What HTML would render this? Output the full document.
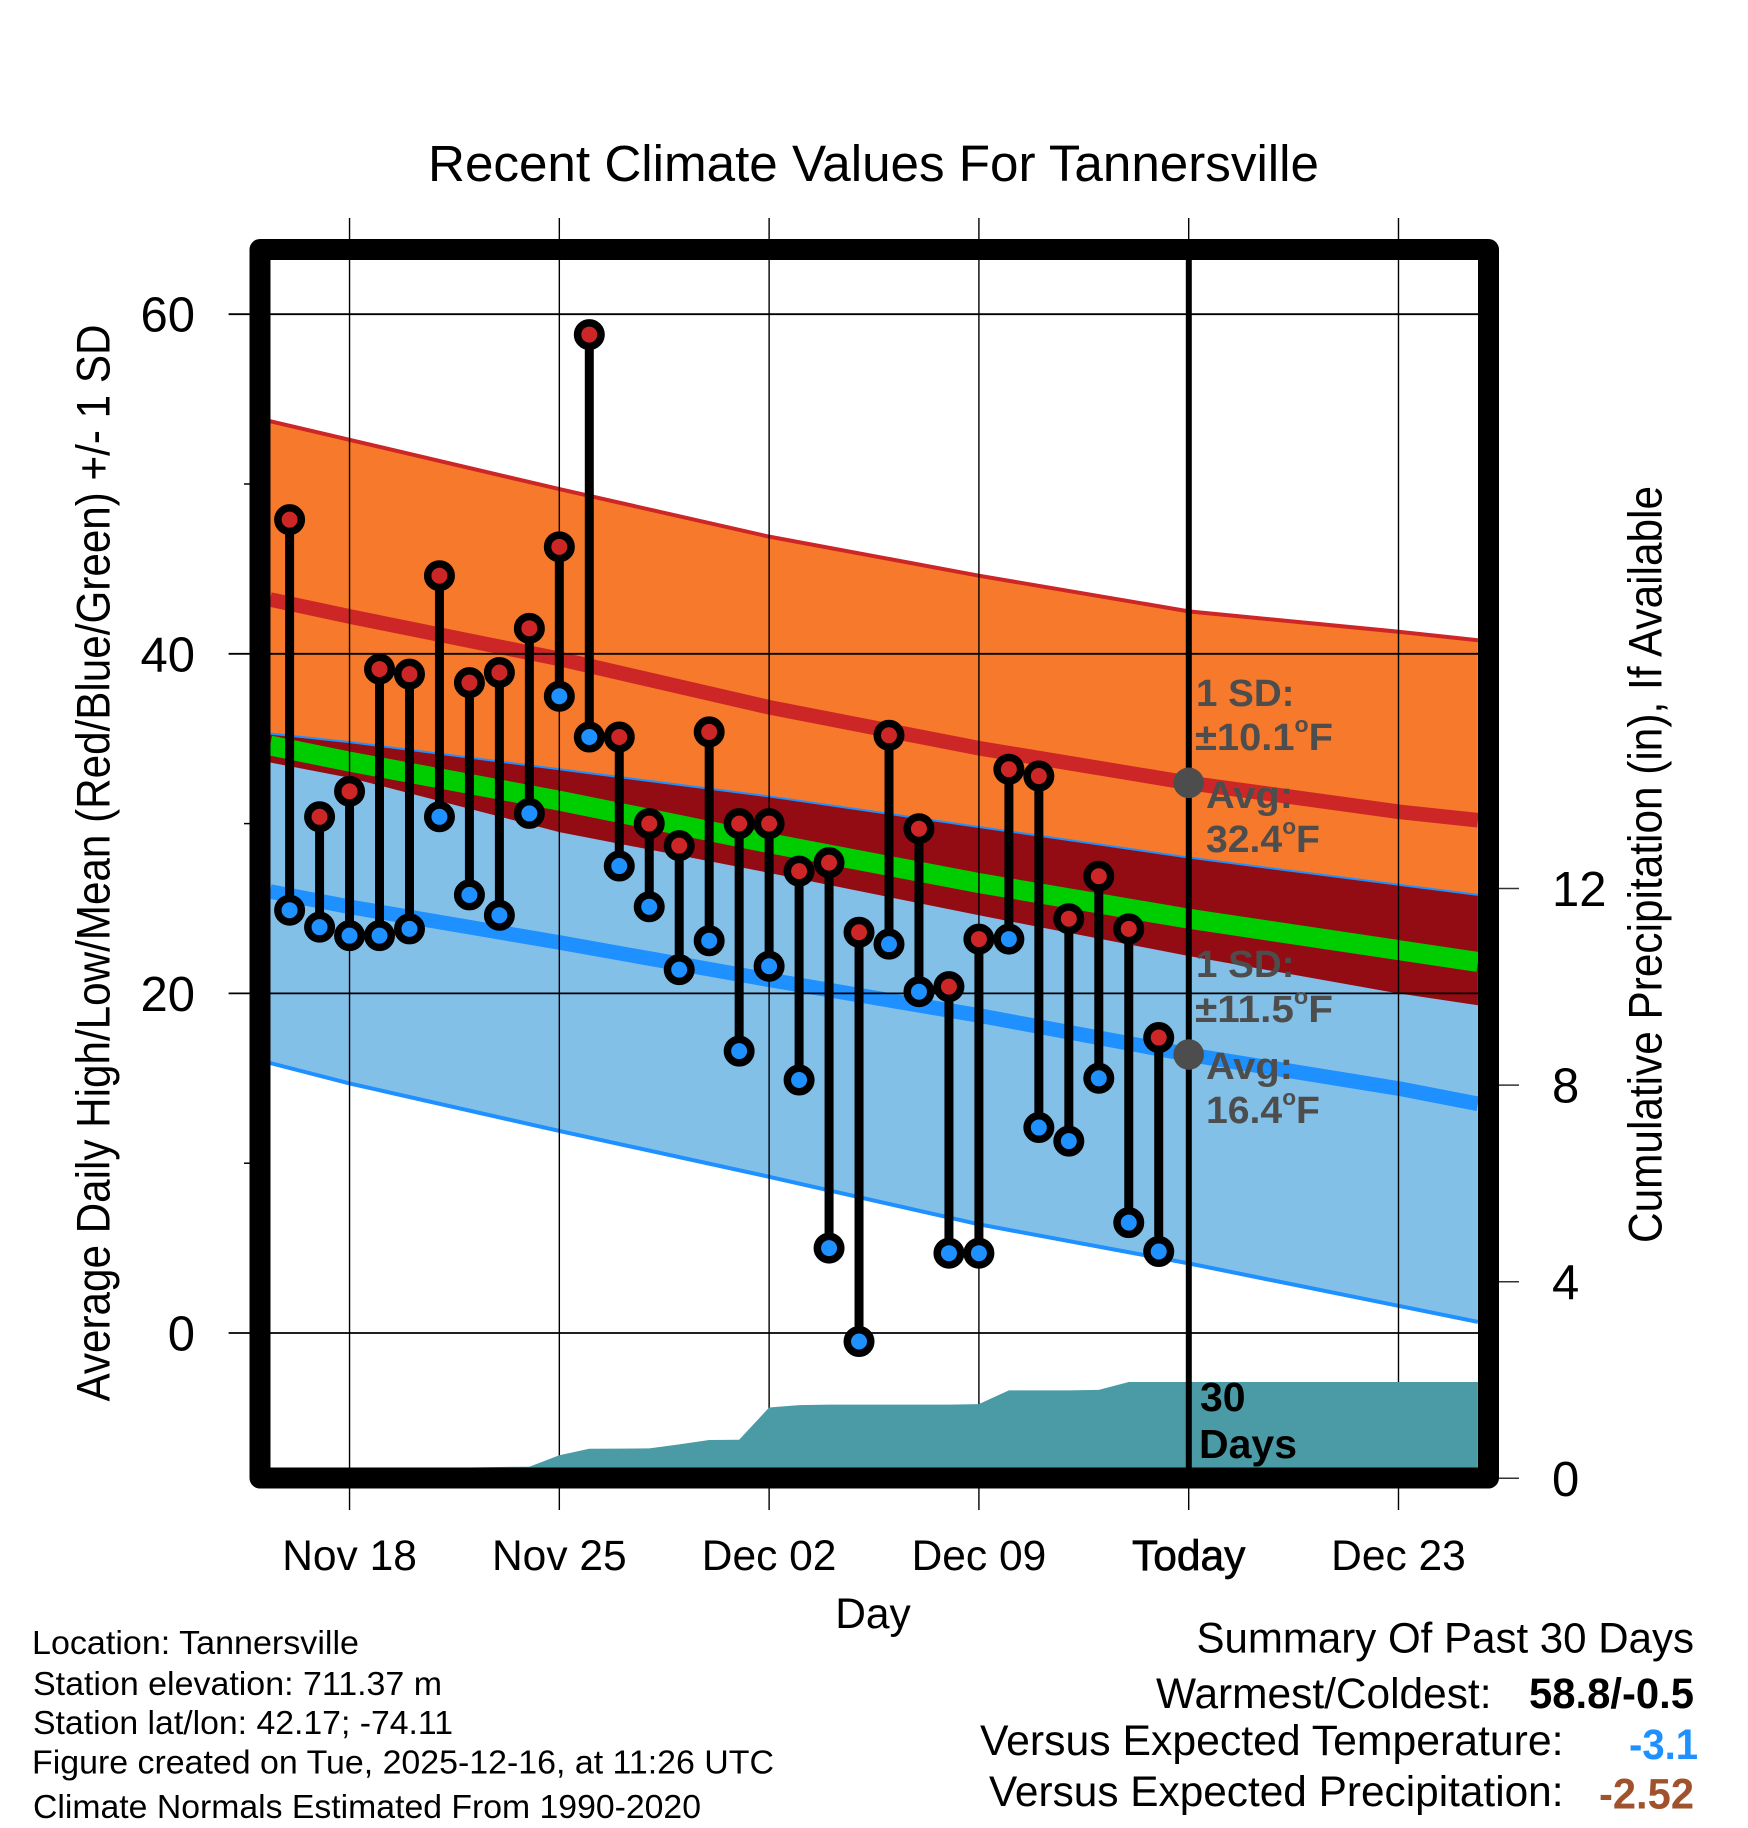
<!DOCTYPE html>
<html>
<head>
<meta charset="utf-8">
<title>Recent Climate Values For Tannersville</title>
<style>
html,body{margin:0;padding:0;background:#fff;}
svg{display:block;}
text{font-family:"Liberation Sans",sans-serif;fill:#000;}
.b{font-weight:bold;}
.g{font-weight:bold;fill:#4d4d4d;font-size:38px;}
.m{font-size:33px;}
.s{font-size:42.5px;}
</style>
</head>
<body>
<svg id="chart" xmlns="http://www.w3.org/2000/svg" width="1748" height="1828" viewBox="0 0 1748 1828">
  <defs><clipPath id="plotClip"><rect x="270" y="260" width="1208" height="1208"/></clipPath></defs>
  <g id="bands" clip-path="url(#plotClip)"></g>
  <g id="grid"></g>
  <g id="precip" clip-path="url(#plotClip)"></g>
  <line x1="1188.8" y1="260" x2="1188.8" y2="1468" stroke="#000" stroke-width="6"/>
  <g id="obs"></g>
  <g id="markers"></g>
  <rect x="260" y="249.5" width="1228.5" height="1228.5" fill="none" stroke="#000" stroke-width="21" stroke-linejoin="round"/>
  <g id="ticks"></g>

  <text x="428" y="181" font-size="51" textLength="891" lengthAdjust="spacingAndGlyphs">Recent Climate Values For Tannersville</text>
  <text transform="translate(109.7 863) rotate(-90)" font-size="47" text-anchor="middle" textLength="1077" lengthAdjust="spacingAndGlyphs">Average Daily High/Low/Mean (Red/Blue/Green) +/- 1 SD</text>
  <text transform="translate(1661.5 864.5) rotate(-90)" font-size="47" text-anchor="middle" textLength="757" lengthAdjust="spacingAndGlyphs">Cumulative Precipitation (in), If Available</text>
  <text x="873" y="1628" font-size="42.5" text-anchor="middle">Day</text>

  <text class="g" x="1196" y="706" textLength="98.5" lengthAdjust="spacingAndGlyphs">1 SD:</text>
  <text class="g" x="1195" y="750" textLength="138" lengthAdjust="spacingAndGlyphs">±10.1<tspan font-size="22" dy="-18">o</tspan><tspan dy="18">F</tspan></text>
  <text class="g" x="1206" y="808" textLength="87" lengthAdjust="spacingAndGlyphs">Avg:</text>
  <text class="g" x="1206" y="852" textLength="114" lengthAdjust="spacingAndGlyphs">32.4<tspan font-size="22" dy="-18">o</tspan><tspan dy="18">F</tspan></text>
  <text class="g" x="1196" y="977" textLength="98.5" lengthAdjust="spacingAndGlyphs">1 SD:</text>
  <text class="g" x="1195" y="1022" textLength="138" lengthAdjust="spacingAndGlyphs">±11.5<tspan font-size="22" dy="-18">o</tspan><tspan dy="18">F</tspan></text>
  <text class="g" x="1206" y="1079" textLength="87" lengthAdjust="spacingAndGlyphs">Avg:</text>
  <text class="g" x="1206" y="1123" textLength="114" lengthAdjust="spacingAndGlyphs">16.4<tspan font-size="22" dy="-18">o</tspan><tspan dy="18">F</tspan></text>
  <text class="b" x="1200" y="1411" font-size="41">30</text>
  <text class="b" x="1199" y="1458" font-size="41">Days</text>

  <text class="m" x="32" y="1654" textLength="327" lengthAdjust="spacingAndGlyphs">Location: Tannersville</text>
  <text class="m" x="33" y="1695" textLength="409" lengthAdjust="spacingAndGlyphs">Station elevation: 711.37 m</text>
  <text class="m" x="33" y="1734" textLength="420" lengthAdjust="spacingAndGlyphs">Station lat/lon: 42.17; -74.11</text>
  <text class="m" x="32" y="1773.5" textLength="742" lengthAdjust="spacingAndGlyphs">Figure created on Tue, 2025-12-16, at 11:26 UTC</text>
  <text class="m" x="33" y="1818" textLength="668" lengthAdjust="spacingAndGlyphs">Climate Normals Estimated From 1990-2020</text>

  <text class="s" x="1196.5" y="1652.5" textLength="497.5" lengthAdjust="spacingAndGlyphs">Summary Of Past 30 Days</text>
  <text class="s" x="1156" y="1708" textLength="335.5" lengthAdjust="spacingAndGlyphs">Warmest/Coldest:</text>
  <text class="s b" x="1529" y="1708" textLength="165" lengthAdjust="spacingAndGlyphs">58.8/-0.5</text>
  <text class="s" x="980" y="1755" textLength="583.5" lengthAdjust="spacingAndGlyphs">Versus Expected Temperature:</text>
  <text class="s b" x="1629" y="1759" textLength="69" lengthAdjust="spacingAndGlyphs" style="fill:#1e90ff">-3.1</text>
  <text class="s" x="989" y="1806" textLength="574.5" lengthAdjust="spacingAndGlyphs">Versus Expected Precipitation:</text>
  <text class="s b" x="1599" y="1808.5" textLength="95" lengthAdjust="spacingAndGlyphs" style="fill:#a0522d">-2.52</text>
</svg>
<script>
// Day index: 0 = Nov 16, 30 = Today (Dec 16)
const tempTicksMajor = [60, 40, 20, 0];
const tempTicksMinor = [50, 30, 10];
const precipTicks = [12, 8, 4, 0];
const dateTickDays = [2, 9, 16, 23, 30, 37];
const dateTickLabels = ["Nov 18", "Nov 25", "Dec 02", "Dec 09", "Today", "Dec 23"];

const normalDays = [-0.65, 2, 9, 16, 23, 30, 37, 39.65];
const highPlusSD = [53.7, 52.6, 49.7, 46.9, 44.6, 42.5, 41.3, 40.8];
const highMean = [43.2, 42.2, 39.7, 36.85, 34.44, 32.4, 30.7, 30.2];
const highMinusSD = [33.6, 32.7, 29.5, 27.1, 24.6, 22.2, 20.0, 19.3];
const lowPlusSD = [35.3, 34.8, 33.2, 31.6, 29.8, 28.0, 26.4, 25.8];
const lowMean = [26.0, 25.1, 23.0, 20.8, 18.7, 16.4, 14.4, 13.5];
const lowMinusSD = [15.9, 14.7, 11.9, 9.2, 6.4, 4.1, 1.6, 0.65];
const avgMean = [34.6, 33.65, 31.35, 28.85, 26.5, 24.4, 22.55, 21.85];

const dailyHigh = [47.9, 30.4, 31.9, 39.1, 38.8, 44.6, 38.3, 38.9, 41.5, 46.3, 58.8, 35.1, 30.0, 28.7, 35.4, 30.0, 30.0, 27.2, 27.7, 23.6, 35.2, 29.7, 20.4, 23.2, 33.2, 32.8, 24.4, 26.9, 23.8, 17.4];
const dailyLow = [24.9, 23.9, 23.4, 23.4, 23.8, 30.4, 25.8, 24.6, 30.6, 37.5, 35.1, 27.5, 25.1, 21.4, 23.1, 16.6, 21.6, 14.9, 5.0, -0.5, 22.9, 20.1, 4.7, 4.7, 23.2, 12.1, 11.3, 15.0, 6.5, 4.8];

const precipCumulative = [0, 0, 0, 0, 0, 0, 0.22, 0.23, 0.235, 0.468, 0.602, 0.604, 0.61, 0.69, 0.78, 0.785, 1.44, 1.49, 1.5, 1.5, 1.5, 1.5, 1.5, 1.51, 1.79, 1.79, 1.79, 1.8, 1.96, 1.96];
const todayAverages = [32.4, 16.4];

const NS = "http://www.w3.org/2000/svg";
const xDay = d => 289.6 + 29.97 * d;
const yTemp = v => 1333 - 16.98 * v;
const yPrecip = p => 1478.3 - 49.15 * p;
const X_RIGHT_DAY = 39.65;

function mk(parent, tag, attrs, txt) {
  const el = document.createElementNS(NS, tag);
  for (const k in attrs) el.setAttribute(k, attrs[k]);
  if (txt !== undefined) el.textContent = txt;
  parent.appendChild(el);
  return el;
}
function pts(days, vals) {
  return days.map((d, i) => xDay(d).toFixed(2) + "," + yTemp(vals[i]).toFixed(2)).join(" ");
}
function bandPts(days, top, bot) {
  return pts(days, top) + " " + pts(days.slice().reverse(), bot.slice().reverse());
}
const bands = document.getElementById("bands");
let e;

e = mk(bands, "polygon", {points: bandPts(normalDays, highPlusSD, highMinusSD), fill: "#f7792b"});


e = mk(bands, "polygon", {points: bandPts(normalDays, lowPlusSD, lowMinusSD), fill: "#83c0e8"});


e = mk(bands, "polygon", {points: bandPts(normalDays, lowPlusSD, highMinusSD), fill: "#930c13"});


e = mk(bands, "polyline", {points: pts(normalDays, highPlusSD), fill: "none", stroke: "#cd2626", "stroke-width": 4});


e = mk(bands, "polyline", {points: pts(normalDays, highMean), fill: "none", stroke: "#cd2626", "stroke-width": 14.6});


e = mk(bands, "polyline", {points: pts(normalDays, lowPlusSD), fill: "none", stroke: "#1e90ff", "stroke-width": 2});


e = mk(bands, "polyline", {points: pts(normalDays, lowMean), fill: "none", stroke: "#1e90ff", "stroke-width": 14.6});


e = mk(bands, "polyline", {points: pts(normalDays, lowMinusSD), fill: "none", stroke: "#1e90ff", "stroke-width": 4});


e = mk(bands, "polyline", {points: pts(normalDays, avgMean), fill: "none", stroke: "#00cd00", "stroke-width": 20});



const grid = document.getElementById("grid");
tempTicksMajor.forEach(v => {
  const l = mk(grid, "line", {x1: 228.6, x2: 1478, y1: yTemp(v), y2: yTemp(v), stroke: "#000", "stroke-width": 1.8});
  
  
});
dateTickDays.forEach(d => {
  const l = mk(grid, "line", {x1: xDay(d), x2: xDay(d), y1: 218, y2: 1510, stroke: "#000", "stroke-width": 1.4});
  
  
});

const precip = document.getElementById("precip");
{
  const last = precipCumulative[precipCumulative.length - 1];
  let p = xDay(-0.65) + "," + yPrecip(0);
  precipCumulative.forEach((v, i) => { p += " " + xDay(i).toFixed(2) + "," + yPrecip(v).toFixed(2); });
  p += " " + xDay(X_RIGHT_DAY) + "," + yPrecip(last).toFixed(2) + " " + xDay(X_RIGHT_DAY) + "," + yPrecip(0);
  const a = mk(precip, "polygon", {points: p, fill: "#4a9ba6"});
  
  
}

const obs = document.getElementById("obs");
dailyHigh.forEach((hi, i) => {
  const lo = dailyLow[i], x = xDay(i);
  const bar = mk(obs, "line", {x1: x, x2: x, y1: yTemp(hi), y2: yTemp(lo), stroke: "#000", "stroke-width": 9});
  
  
  const cl = mk(obs, "circle", {cx: x, cy: yTemp(lo), r: 11.75, fill: "#1e90ff", stroke: "#000", "stroke-width": 7.5});
  
  
  const ch = mk(obs, "circle", {cx: x, cy: yTemp(hi), r: 11.75, fill: "#cd2626", stroke: "#000", "stroke-width": 7.5});
  
  
});

const markers = document.getElementById("markers");
todayAverages.forEach(v => {
  const c = mk(markers, "circle", {cx: xDay(30), cy: yTemp(v), r: 15.3, fill: "#4d4d4d"});
  
  
});

const ticks = document.getElementById("ticks");
tempTicksMajor.forEach(v => {
  const t = mk(ticks, "text", {x: 195, y: yTemp(v) + 17.5, "font-size": 49, "text-anchor": "end"}, String(v));
  
  
});
tempTicksMinor.forEach(v => {
  const l = mk(ticks, "line", {x1: 244, x2: 250, y1: yTemp(v), y2: yTemp(v), stroke: "#000", "stroke-width": 1.5});
  
  
});
precipTicks.forEach(v => {
  const l = mk(ticks, "line", {x1: 1499, x2: 1519, y1: yPrecip(v), y2: yPrecip(v), stroke: "#333", "stroke-width": 1.5});
  
  
  const t = mk(ticks, "text", {x: 1552, y: yPrecip(v) + 17.5, "font-size": 49}, String(v));
  
  
});
dateTickDays.forEach((d, i) => {
  const t = mk(ticks, "text", {x: xDay(d), y: 1570, "font-size": 42.5, "text-anchor": "middle"}, dateTickLabels[i]);
  if (dateTickLabels[i] === "Today") { t.setAttribute("stroke", "#000"); t.setAttribute("stroke-width", "0.7"); }
  
  
});
</script>
</body>
</html>
